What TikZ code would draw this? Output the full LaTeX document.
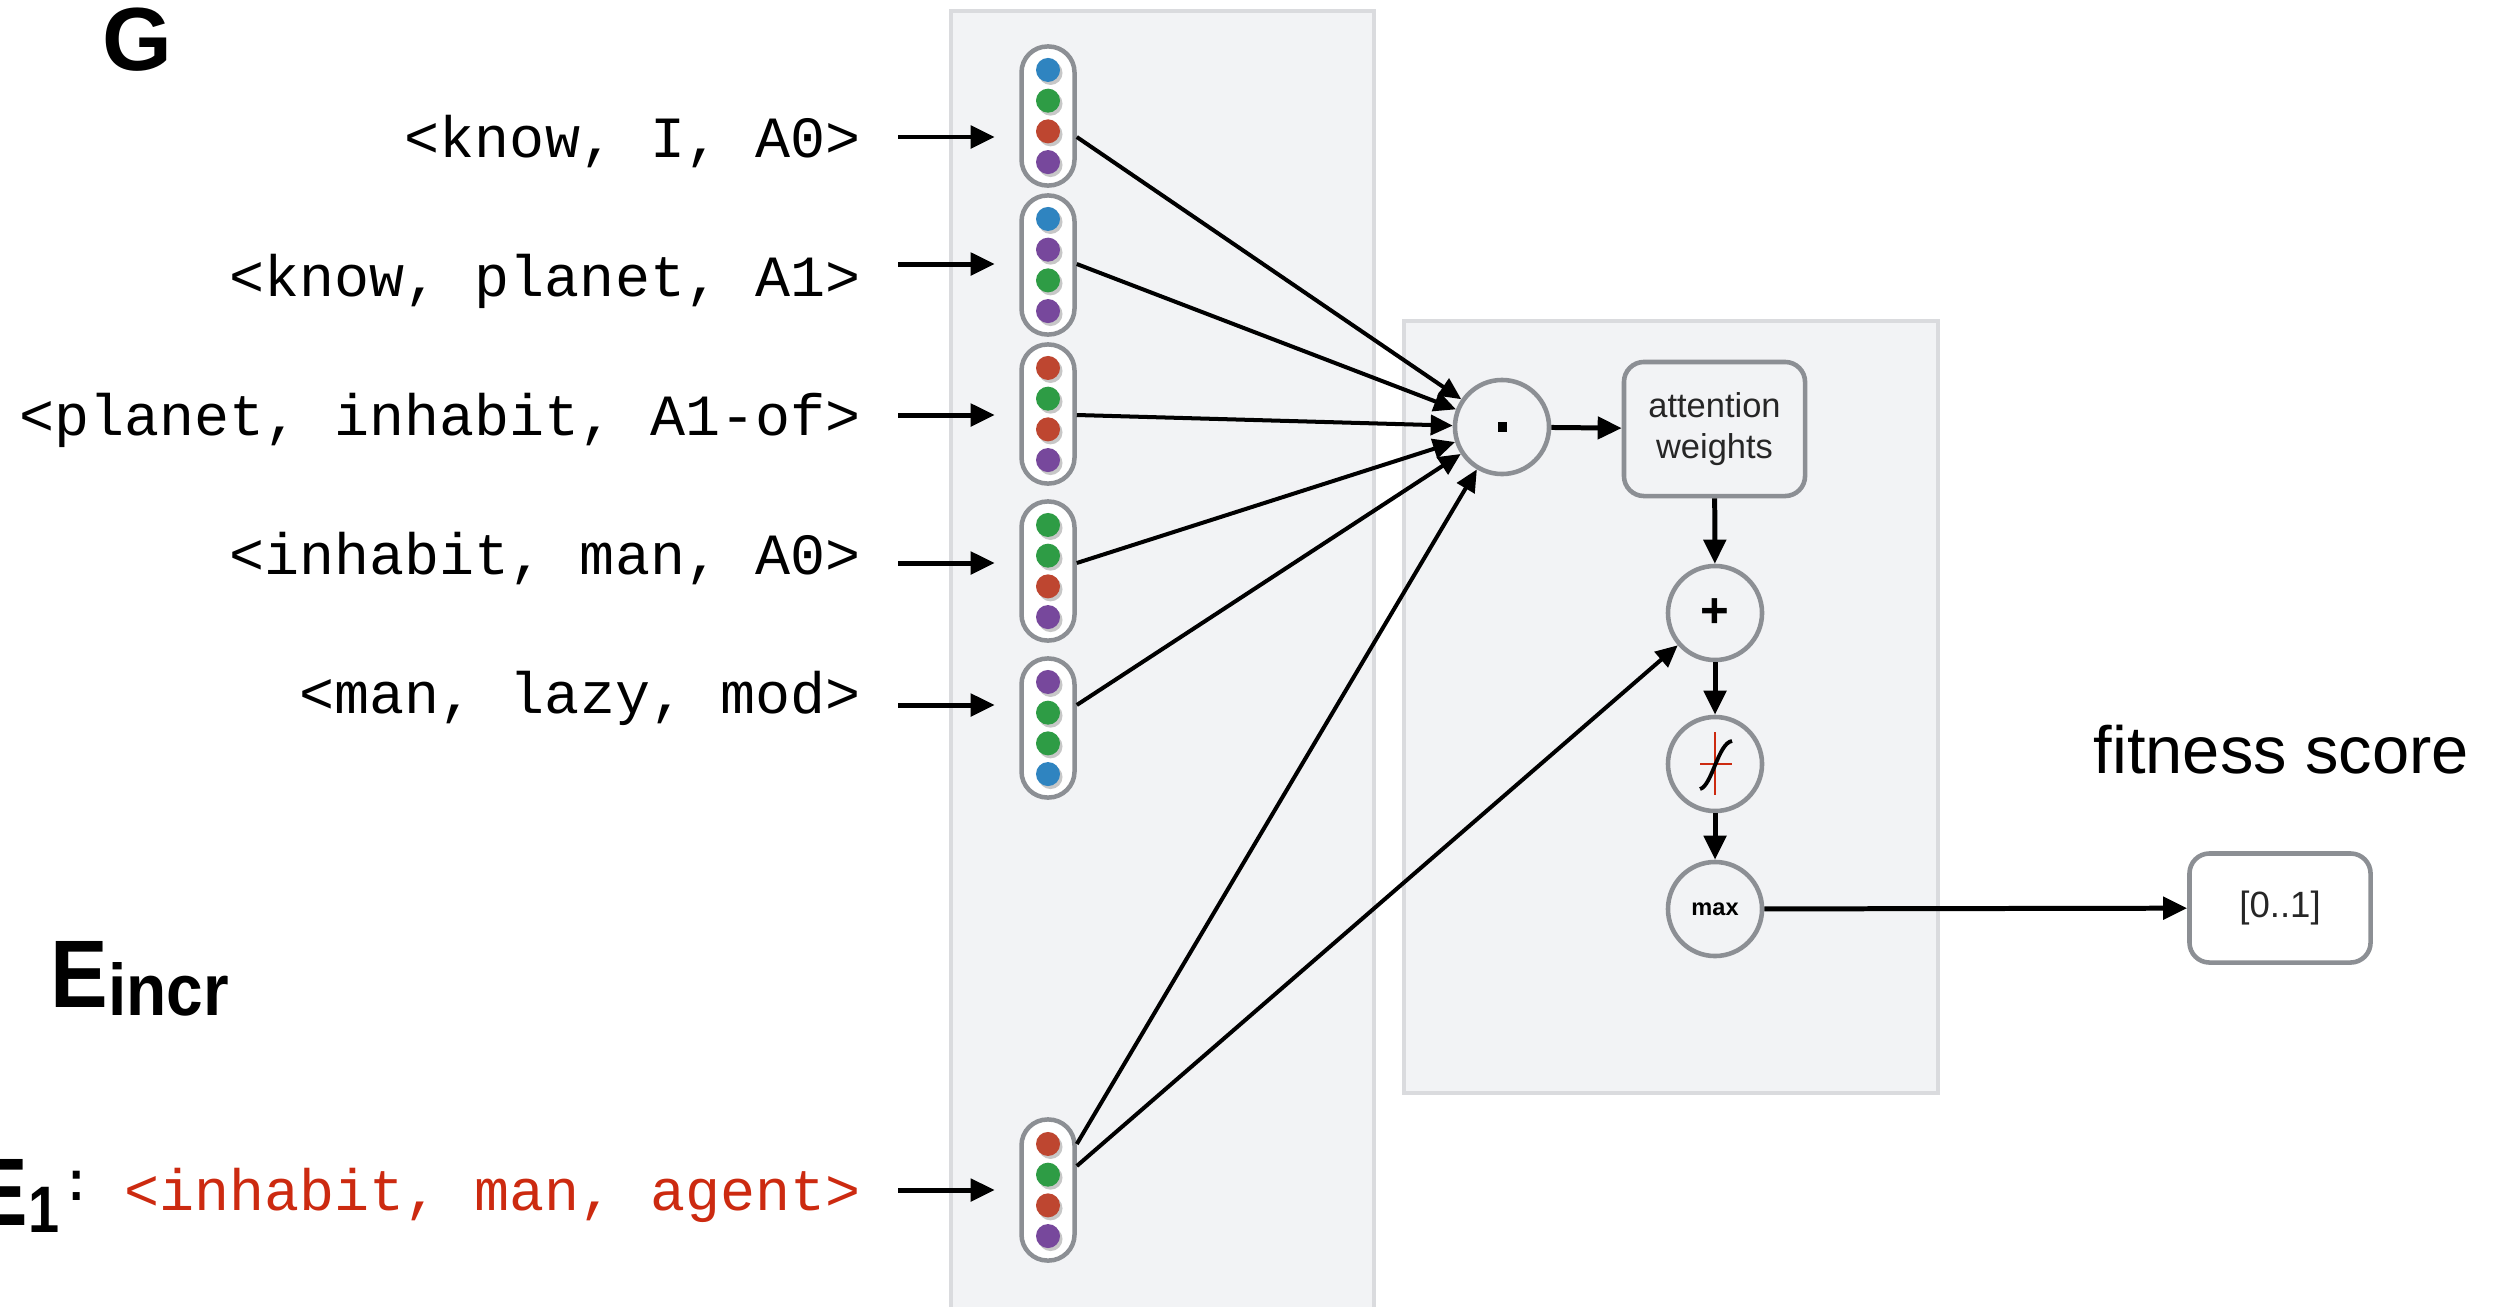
\documentclass[tikz,border=0pt]{standalone}
\usepackage{fontspec}
\setmainfont{Liberation Sans}
\newfontfamily\courfont{Liberation Mono}
\usetikzlibrary{arrows.meta,calc}
\definecolor{panelfill}{HTML}{F2F3F5}
\definecolor{panelline}{HTML}{DADBDE}
\definecolor{capline}{HTML}{8C8F94}
\definecolor{dblue}{HTML}{2F84C0}
\definecolor{dgreen}{HTML}{2E9C45}
\definecolor{dred}{HTML}{BE4630}
\definecolor{dpurple}{HTML}{77489C}
\definecolor{tred}{HTML}{CC2A10}
\newcommand\capdots[5]{%
  \foreach \c [count=\i] in {#2,#3,#4,#5} {%
    \fill[black,opacity=0.22] ($(#1.center)+(2.5,{(\i-2.5)*30.7+3})$) circle[radius=0.12cm];
    \fill[\c] ($(#1.center)+(0,{(\i-2.5)*30.7})$) circle[radius=0.12cm];
  }}
\begin{document}
\begin{tikzpicture}[x=0.01cm,y=-0.01cm,
  panel/.style={fill=panelfill,draw=panelline,line width=1.14pt},
  capsule/.style={draw=capline,fill=white,line width=1.28pt,rounded corners=0.26cm,minimum width=0.53cm,minimum height=1.39cm,inner sep=0},
  opnode/.style={circle,draw=capline,fill=panelfill,line width=1.3pt,minimum size=0.94cm,inner sep=0},
  boxnode/.style={rectangle,rounded corners=0.2cm,draw=capline,line width=1.3pt,inner sep=0},
  arr/.style={line width=1.42pt,-{Triangle[length=0.24cm,width=0.22cm]}},
  conn/.style={line width=1.14pt,-{Triangle[length=0.22cm,width=0.2cm]}},
  triple/.style={font=\courfont\fontsize{16.6pt}{18pt}\selectfont,anchor=base east,inner sep=0},
  bigletter/.style={anchor=base west,inner sep=0,font=\bfseries\fontsize{27.3pt}{29pt}\selectfont},
]
\fill[white] (0,0) rectangle (2501,1306);
\useasboundingbox (0,0) rectangle (2501,1306);

% panels
\draw[panel] (951,11) rectangle (1374,1340);
\draw[panel] (1404,321) rectangle (1938,1093);

% headings
\node[anchor=base west,inner sep=0,font=\bfseries\fontsize{25.5pt}{27pt}\selectfont] (G) at (102,70) {G};
\node[bigletter,xscale=0.9] (Einc) at (50,1007) {E\raisebox{-2.3pt}{\fontsize{20.8pt}{22pt}\selectfont incr}};
\node[bigletter,xscale=0.85] (E1) at (-27,1225) {E\raisebox{-2pt}{\fontsize{18.7pt}{20pt}\selectfont 1}\hspace{3pt}\raisebox{7pt}{\fontsize{16.5pt}{18pt}\selectfont :}};

% row coordinates
\coordinate (r1) at (0,137);
\coordinate (r2) at (0,264);
\coordinate (r3) at (0,415);
\coordinate (r4) at (0,563);
\coordinate (r5) at (0,705);
\coordinate (re) at (0,1190);
\coordinate (rea) at (0,1144);
\coordinate (reb) at (0,1166);

% labels
\node[triple] (l1) at (861,157) {<know, I, A0>};
\node[triple] (l2) at (861,296) {<know, planet, A1>};
\node[triple] (l3) at (861,435) {<planet, inhabit, A1-of>};
\node[triple] (l4) at (861,574) {<inhabit, man, A0>};
\node[triple] (l5) at (861,713) {<man, lazy, mod>};
\node[triple,text=tred] (le) at (861,1210) {<inhabit, man, agent>};

% capsules
\node[capsule] (c1) at (1048,116) {};
\node[capsule] (c2) at (1048,265) {};
\node[capsule] (c3) at (1048,414) {};
\node[capsule] (c4) at (1048,571) {};
\node[capsule] (c5) at (1048,728) {};
\node[capsule,minimum height=1.41cm] (ce) at (1048,1190) {};
\capdots{c1}{dblue}{dgreen}{dred}{dpurple}
\capdots{c2}{dblue}{dpurple}{dgreen}{dpurple}
\capdots{c3}{dred}{dgreen}{dred}{dpurple}
\capdots{c4}{dgreen}{dgreen}{dred}{dpurple}
\capdots{c5}{dpurple}{dgreen}{dgreen}{dblue}
\capdots{ce}{dred}{dgreen}{dred}{dpurple}

% input arrows
\foreach \l/\c/\r in {l1/c1/r1,l2/c2/r2,l3/c3/r3,l4/c4/r4,l5/c5/r5,le/ce/re}
  \draw[arr,shorten <=0.37cm,shorten >=0.245cm] (\l.east |- \r) -- (\c.west |- \r);

% operator nodes
\node[opnode] (dot) at (1502,427) {};
\fill (dot.center) +(-4.5,-5) rectangle +(4.5,5);
\node[boxnode,fill=panelfill,minimum width=1.81cm,minimum height=1.34cm,align=center,font=\fontsize{9.8pt}{11.7pt}\selectfont,text=black!85] (attn) at (1714.5,429) {attention\\weights};
\node[opnode,font=\bfseries\fontsize{14pt}{14pt}\selectfont] (plus) at (1715,613) {+};
\node[opnode] (sig) at (1715,764) {};
\draw[tred,line width=0.6pt] (sig.center) +(0,-32) -- +(0,31);
\draw[tred,line width=0.6pt] (sig.center) +(-15,0) -- +(17,0);
\draw[line width=1.1pt] ($(sig.center)+(-15,25)$) .. controls ($(sig.center)+(-3,22)$) and ($(sig.center)+(3,-21)$) .. ($(sig.center)+(17,-23)$);
\node[opnode,font=\bfseries\fontsize{6.7pt}{7pt}\selectfont] (max) at (1715,909) {max};
\node[boxnode,fill=white,minimum width=1.81cm,minimum height=1.09cm,font=\fontsize{10.4pt}{12pt}\selectfont,text=black!85] (res) at (2280,908) {[0..1]};
\node[anchor=base west,inner sep=0,font=\fontsize{19pt}{21pt}\selectfont] (fit) at (2093,773) {fitness score};

% connectors into the dot product
\foreach \c/\r in {c1/r1,c2/r2,c3/r3,c4/r4,c5/r5}
  \draw[conn] (\c.east |- \r) -- (dot);
\draw[conn] (ce.east |- rea) -- (dot);
\draw[conn] (ce.east |- reb) -- (plus);

% pipeline
\draw[arr] (dot) -- (attn);
\draw[arr] (attn) -- (plus);
\draw[arr] (plus) -- (sig);
\draw[arr] (sig) -- (max);
\draw[arr] (max) -- (res);
\end{tikzpicture}
\end{document}
